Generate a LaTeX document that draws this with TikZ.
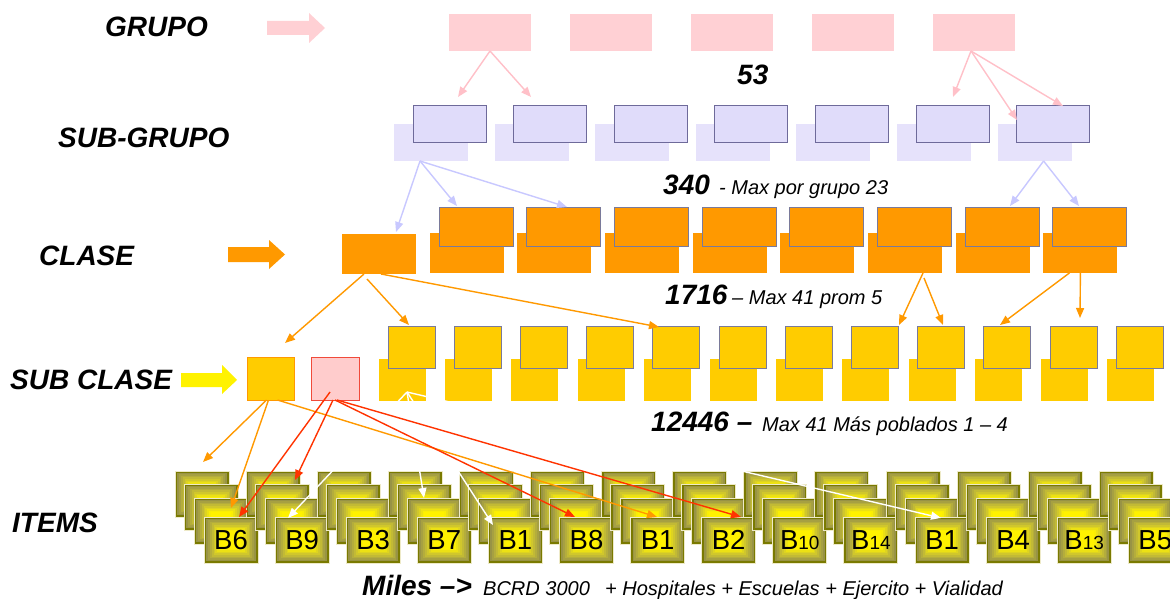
\documentclass[tikz,border=0pt]{standalone}
\usepackage{fontspec}
\setmainfont{Liberation Sans}
\usetikzlibrary{arrows.meta}
\definecolor{gpink}{HTML}{FFD0D4}
\definecolor{apink}{HTML}{FFC0C8}
\definecolor{lav}{HTML}{E0DCFA}
\definecolor{lavb}{HTML}{E6E2FB}
\definecolor{lavedge}{HTML}{6E6A9A}
\definecolor{lavarrow}{HTML}{C8C8FF}
\definecolor{orng}{HTML}{FF9900}
\definecolor{gold}{HTML}{FFCC00}
\definecolor{boxedge}{HTML}{7A7A9A}
\definecolor{redl}{HTML}{FF3300}
\definecolor{olivec}{HTML}{7A7A00}
\definecolor{itemedge}{HTML}{EEEAC8}
\definecolor{sbpink}{HTML}{FFCCCC}
\definecolor{sbred}{HTML}{F04A3A}
\newcommand\itsub[1]{{\fontsize{19}{19}\selectfont #1}}
\begin{document}
\begin{tikzpicture}[x=1pt,y=-1pt,
  box/.style={rectangle, inner sep=0pt, outer sep=0pt, anchor=north west},
  grp/.style={box, fill=gpink, minimum width=82pt, minimum height=37pt},
  sgf/.style={box, fill=lav, draw=lavedge, line width=1pt, minimum width=73pt, minimum height=37pt},
  sgb/.style={box, fill=lavb, minimum width=74pt, minimum height=37pt},
  clf/.style={box, fill=orng, draw=boxedge, line width=1pt, minimum width=74pt, minimum height=39pt},
  clb/.style={box, fill=orng, minimum width=74pt, minimum height=40pt},
  scf/.style={box, fill=gold, draw=boxedge, line width=1pt, minimum width=47pt, minimum height=42pt},
  scb/.style={box, fill=gold, minimum width=47pt, minimum height=42pt},
  itm/.style={box, draw=itemedge, line width=1pt, minimum width=54pt, minimum height=46pt,
    font=\fontsize{27.5}{27.5}\selectfont,
    path picture={
      \foreach \k in {0,...,10}{
        \pgfmathtruncatemacro\pc{min(100,\k*12)}
        \fill[yellow!\pc!olivec] ([shift={(\k*1.9pt,-\k*1.6pt)}]path picture bounding box.north west) rectangle ([shift={(-\k*1.9pt,\k*1.6pt)}]path picture bounding box.south east);
      }
    }},
  lbl/.style={anchor=base west, inner sep=0pt, font=\fontsize{28}{30}\selectfont\bfseries\itshape},
  sm/.style={anchor=base west, inner sep=0pt, font=\fontsize{20}{22}\selectfont\itshape},
  conn/.style={line width=1.4pt, -{Triangle[length=10pt,width=8pt]}}
]
\useasboundingbox (0,0) rectangle (1170,599);
\fill[white] (0,0) rectangle (1170,599);

% ---------- labels ----------
\node[lbl] (lgrupo) at (105,37) {GRUPO};
\node[lbl] (lsubgrupo) at (58,147) {SUB-GRUPO};
\node[lbl] (lclase) at (39,265) {CLASE};
\node[lbl] (lsubclase) at (10,389) {SUB CLASE};
\node[lbl] (litems) at (12,532) {ITEMS};

% ---------- block arrows ----------
\fill[gpink] (267,21) -- (309,21) -- (309,13) -- (325,28) -- (309,43) -- (309,35) -- (267,35) -- cycle;
\fill[orng] (228,247) -- (269,247) -- (269,240) -- (285,254.5) -- (269,269) -- (269,262) -- (228,262) -- cycle;
\fill[yellow] (181,373) -- (222,373) -- (222,365) -- (237,380) -- (222,394) -- (222,387) -- (181,387) -- cycle;

% ---------- GRUPO ----------
\foreach \i in {1,...,5}
  \node[grp] (g\i) at ({449+121*(\i-1)},14) {};

% ---------- SUB-GRUPO ----------
\foreach \i in {1,...,7}
  \node[sgb] (sgb\i) at ({413+100.6*(\i-1)-19},124) {};
\foreach \i in {1,...,7}
  \node[sgf] (sgf\i) at ({413+100.6*(\i-1)},106) {};

% ---------- CLASE ----------
\node[clb] (c0) at (342,234) {};
\foreach \i in {1,...,8}
  \node[clb] (clb\i) at ({439+87.7*(\i-1)-9.5},233) {};
\foreach \i in {1,...,8}
  \node[clf] (clf\i) at ({439+87.7*(\i-1)},207) {};

% ---------- SUB CLASE ----------
\node[box, fill=gold, draw=orng, line width=1pt, minimum width=47pt, minimum height=43pt] (sc1) at (247,357) {};
\node[box, fill=sbpink, draw=sbred, line width=1pt, minimum width=48pt, minimum height=43pt] (sc2) at (311,357) {};
\foreach \i in {1,...,12}
  \node[scb] (scb\i) at ({388+66.2*(\i-1)-9},359) {};
\foreach \i in {1,...,12}
  \node[scf] (scf\i) at ({388+66.2*(\i-1)},326) {};

% ---------- ITEMS ----------
\foreach \lab [count=\i from 0] in {B6,B9,B3,B7,B1,B8,B1,B2,{B\itsub{10}},{B\itsub{14}},B1,B4,{B\itsub{13}},B5}{
  \node[itm] (ia\i) at ({204+71.1*\i-29},471) {};
  \node[itm] (ib\i) at ({204+71.1*\i-20},484) {};
  \node[itm] (ic\i) at ({204+71.1*\i-10},498) {};
  \node[itm] (id\i) at ({204+71.1*\i},517) {\lab};
}

% ---------- numbers ----------
\node[lbl] (n53) at (737,85) {53};
\node[lbl] (n340) at (663,194) {340};
\node[sm] (n340t) at (719,194) {- Max por grupo 23};
\node[lbl] (n1716) at (665,304) {1716};
\node[sm] (n1716t) at (732,304) {– Max 41 prom 5};
\node[lbl] (n12446) at (651,431) {12446 –};
\node[sm] (n12446t) at (762,431) {Max 41 Más poblados 1 – 4};
\node[lbl] (nmiles) at (362,595) {Miles –>};
\node[sm] (nbcrd) at (483,595) {BCRD 3000};
\node[sm] (nplus) at (605,595) {+ Hospitales + Escuelas + Ejercito + Vialidad};

% ---------- connector end points ----------
\coordinate (pg1) at (458,97);
\coordinate (pg2) at (531,97);
\coordinate (pg3) at (953,97);
\coordinate (pg4) at (1017,120);
\coordinate (pg5) at (1063,106);
\coordinate (ps1) at (396,232);
\coordinate (ps2) at (457,206);
\coordinate (ps3) at (567,207);
\coordinate (ps4) at (1010,206);
\coordinate (ps5) at (1079,206);
\coordinate (pc1) at (285,343);
\coordinate (pc2) at (409,325);
\coordinate (pc3) at (659,327);
\coordinate (pc4) at (899,325);
\coordinate (pc5) at (943,325);
\coordinate (pc6) at (1000,325);
\coordinate (pc7) at (1080,318);
\coordinate (po1) at (203,462);
\coordinate (po2) at (231,508);
\coordinate (po3) at (657,517);
\coordinate (pr1) at (239,517);
\coordinate (pr2) at (295,480);
\coordinate (pr3) at (575,517);
\coordinate (pr4) at (741,517);
\coordinate (wstart) at (407,392);
\coordinate (pw1) at (288,518);
\coordinate (pw2) at (424,498);
\coordinate (pw3) at (493,525);
\coordinate (pw4) at (941,518);

% ---------- connectors ----------
\draw[conn, apink] (g1.south) -- (pg1);
\draw[conn, apink] (g1.south) -- (pg2);
\draw[conn, apink] ([xshift=-3pt]g5.south) -- (pg3);
\draw[conn, apink] ([xshift=-3pt]g5.south) -- (pg4);
\draw[conn, apink] ([xshift=-3pt]g5.south) -- (pg5);

\draw[conn, lavarrow] ([xshift=-11pt]sgb1.south) -- (ps1);
\draw[conn, lavarrow] ([xshift=-11pt]sgb1.south) -- (ps2);
\draw[conn, lavarrow] ([xshift=-11pt]sgb1.south) -- (ps3);
\draw[conn, lavarrow] ([xshift=9pt]sgb7.south) -- (ps4);
\draw[conn, lavarrow] ([xshift=9pt]sgb7.south) -- (ps5);

\draw[conn, orng] ([xshift=-15pt]c0.south) -- (pc1);
\draw[conn, orng] ([shift={(-12pt,-5pt)}]c0.south) -- (pc2);
\draw[conn, orng] ([xshift=2pt]c0.south) -- (pc3);
\draw[conn, orng] ([xshift=18pt]clb6.south) -- (pc4);
\draw[conn, orng] ([shift={(19pt,-5pt)}]clb6.south) -- (pc5);
\draw[conn, orng] ([xshift=-11pt]clb8.south) -- (pc6);
\draw[conn, orng] (clb8.south) -- (pc7);

\draw[conn, white] (wstart) -- (pw1);
\draw[conn, white] (wstart) -- (pw2);
\draw[conn, white] (wstart) -- (pw3);
\draw[conn, white] (wstart) -- (pw4);

\draw[conn, orng] ([xshift=-4pt]sc1.south) -- (po1);
\draw[conn, orng] ([xshift=-2pt]sc1.south) -- (po2);
\draw[conn, orng] ([xshift=7pt]sc1.south) -- (po3);

\draw[conn, redl] ([shift={(-5pt,8pt)}]sc2.south) -- (pr1);
\draw[conn, redl] ([xshift=-2pt]sc2.south) -- (pr2);
\draw[conn, redl] (sc2.south) -- (pr3);
\draw[conn, redl] ([xshift=2pt]sc2.south) -- (pr4);
\end{tikzpicture}
\end{document}
